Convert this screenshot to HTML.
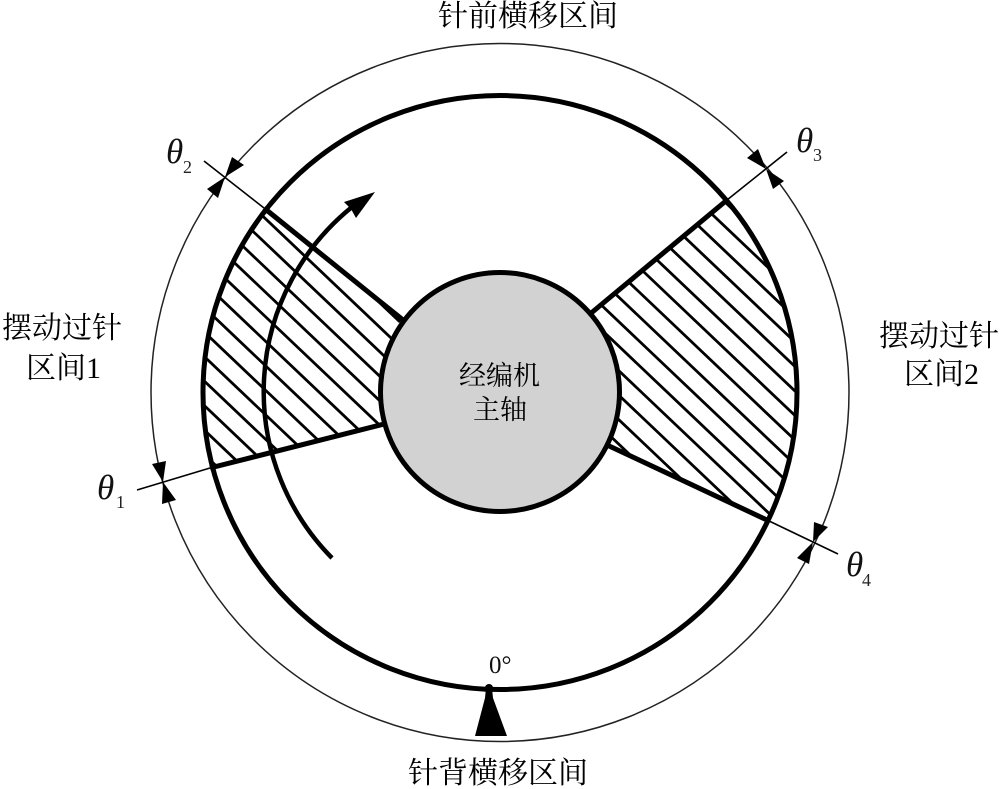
<!DOCTYPE html>
<html><head><meta charset="utf-8">
<style>
html,body{margin:0;padding:0;background:#fff;width:1000px;height:789px;overflow:hidden}
svg{display:block;filter:blur(0.35px)}
.c{font-family:"Liberation Serif","Noto Serif CJK SC",serif;fill:#000;font-size:30px}
.t{font-family:"Liberation Serif",serif;font-style:italic;font-size:35px;fill:#111}
.s{font-family:"Liberation Serif",serif;font-size:18px;fill:#222}
</style></head>
<body>
<svg width="1000" height="789" viewBox="0 0 1000 789" xmlns="http://www.w3.org/2000/svg">
<defs>
<clipPath id="cc"><circle cx="500" cy="392.5" r="297"/></clipPath>
<clipPath id="pl"><polygon points="430,342 190,148.4 100,148.4 100,496 420,415"/></clipPath>
<clipPath id="pr"><polygon points="560,339 800,139.3 900,139.3 900,582.4 570,427.6"/></clipPath>
</defs>
<rect width="1000" height="789" fill="#fff"/>
<circle cx="500" cy="392.5" r="349" fill="none" stroke="#222" stroke-width="1.5"/>
<g clip-path="url(#cc)" stroke="#000" stroke-width="2.8" fill="none">
<g clip-path="url(#pl)">
<path d="M190 98L400 297.5M190 122.5L400 322M190 147L400 346.5M190 171.5L400 371M190 196L400 395.5M190 220.5L400 420M190 245L400 444.5M190 269.5L400 469M190 294L400 493.5M190 318.5L400 518M190 343L400 542.5M190 367.5L400 567M190 392L400 591.5M190 416.5L400 616M190 441L400 640.5M190 465.5L400 665"/>
</g>
<g clip-path="url(#pr)">
<path d="M560 -52.7L810 184.8M560 -28.2L810 209.3M560 -3.7L810 233.8M560 20.8L810 258.3M560 45.3L810 282.8M560 69.8L810 307.3M560 94.3L810 331.8M560 118.8L810 356.3M560 143.3L810 380.8M560 167.8L810 405.3M560 192.3L810 429.8M560 216.8L810 454.3M560 241.3L810 478.8M560 265.8L810 503.3M560 290.3L810 527.8M560 314.8L810 552.3M560 339.3L810 576.8M560 363.8L810 601.3M560 388.3L810 625.8M560 412.8L810 650.3M560 437.3L810 674.8"/>
</g>
</g>
<g stroke="#000" stroke-width="5" fill="none">
<path d="M264 208L403 320"/>
<path d="M210 468L384 424"/>
<path d="M727 200L590 314"/>
<path d="M767 520L607 445"/>
<circle cx="500" cy="392.5" r="297"/>
</g>
<circle cx="500" cy="392" r="119.5" fill="#d2d2d2" stroke="#000" stroke-width="5"/>
<g stroke="#000" stroke-width="1.6">
<path d="M204 161L264 208"/>
<path d="M787 152L727 200"/>
<path d="M137 490L210 468"/>
<path d="M838 554L767 520"/>
</g>
<g fill="#000">
<path d="M225 177L232 157L244 165Z"/>
<path d="M225 177L207 189L218 198Z"/>
<path d="M766 169L747 158L758 149Z"/>
<path d="M766 169L773 189L784 181Z"/>
<path d="M163 482L152 464L166 461Z"/>
<path d="M163 482L162 504L176 500Z"/>
<path d="M813 542L814 522L828 527Z"/>
<path d="M813 542L797 558L809 564Z"/>
</g>
<path d="M332 558A237 237 0 0 1 352 207" fill="none" stroke="#000" stroke-width="4.5"/>
<path d="M375 192L344 202L351 209L356 218Z" fill="#000"/>
<circle cx="489" cy="688" r="4" fill="#000"/>
<path d="M486 688H492L493 698L507 736H475L485 698Z" fill="#000"/>
<text class="c" x="438" y="26">针前横移区间</text>
<text class="c" x="408" y="783">针背横移区间</text>
<text class="c" x="2" y="338">摆动过针</text>
<text class="c" x="26" y="378">区间1</text>
<text class="c" x="879" y="346">摆动过针</text>
<text class="c" x="904" y="384">区间2</text>
<text class="c" x="459" y="385" style="font-size:27px">经编机</text>
<text class="c" x="473" y="419" style="font-size:27px">主轴</text>
<text x="489" y="673" style="font-family:'Liberation Serif',serif;font-size:25px;fill:#111">0°</text>
<text class="t" x="166" y="163">θ</text><text class="s" x="183" y="173">2</text>
<text class="t" x="796" y="152">θ</text><text class="s" x="813" y="161">3</text>
<text class="t" x="97" y="499">θ</text><text class="s" x="116" y="508">1</text>
<text class="t" x="846" y="576">θ</text><text class="s" x="862" y="586">4</text>
</svg>
</body></html>
